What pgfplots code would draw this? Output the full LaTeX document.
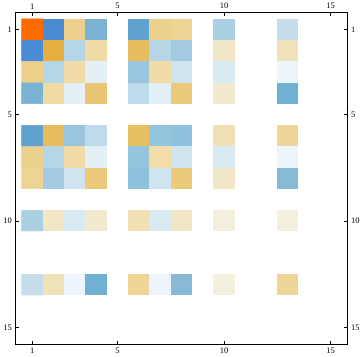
\documentclass[border=0pt]{standalone}
\usepackage{pgfplots}
\pgfplotsset{compat=1.18}
\usepackage{fontspec}
\setmainfont{Liberation Serif}
\begin{document}
\begin{tikzpicture}
\pgfplotsset{
  mmabase/.style={
    scale only axis, width=332.5bp, height=332bp,
    xmin=0.2, xmax=15.8, ymin=0.2, ymax=15.8, y dir=reverse,
    xtick={1,5,10,15}, ytick={1,5,10,15},
    tick align=inside, major tick length=3.5bp,
    tick style={black, line width=0.6pt},
    axis line style={line width=0.75pt},
    tick label style={font=\fontsize{8.5}{10}\selectfont},
    /pgf/number format/assume math mode=true,
  },
}
\begin{axis}[mmabase,
    xticklabel pos=lower, yticklabel pos=left, tick pos=both,
    colormap={mma}{
      rgb255=(255,255,255) rgb255=(255,106,0) rgb255=(74,139,214) rgb255=(235,207,139)
      rgb255=(122,179,211) rgb255=(95,162,207) rgb255=(236,208,142) rgb255=(237,212,146)
      rgb255=(171,208,227) rgb255=(198,222,236) rgb255=(229,174,62) rgb255=(182,214,230)
      rgb255=(240,219,165) rgb255=(231,188,95) rgb255=(163,202,224) rgb255=(241,231,199)
      rgb255=(240,226,184) rgb255=(241,219,167) rgb255=(227,240,246) rgb255=(153,197,222)
      rgb255=(208,228,239) rgb255=(218,234,243) rgb255=(237,244,251) rgb255=(233,198,116)
      rgb255=(191,220,236) rgb255=(235,203,122) rgb255=(242,234,207) rgb255=(111,176,211)
      rgb255=(231,191,96) rgb255=(149,196,221) rgb255=(143,193,220) rgb255=(240,224,179)
      rgb255=(237,214,152) rgb255=(242,221,169) rgb255=(243,239,220) rgb255=(243,240,222)
      rgb255=(136,186,214)
    },
    colormap access=direct,
]
\addplot[matrix plot*, mesh/cols=15, point meta=explicit, draw=none] coordinates {
(1,1)[1] (2,1)[2] (3,1)[3] (4,1)[4] (5,1)[0] (6,1)[5] (7,1)[6] (8,1)[7] (9,1)[0] (10,1)[8] (11,1)[0] (12,1)[0] (13,1)[9] (14,1)[0] (15,1)[0]

(1,2)[2] (2,2)[10] (3,2)[11] (4,2)[12] (5,2)[0] (6,2)[13] (7,2)[11] (8,2)[14] (9,2)[0] (10,2)[15] (11,2)[0] (12,2)[0] (13,2)[16] (14,2)[0] (15,2)[0]

(1,3)[3] (2,3)[11] (3,3)[17] (4,3)[18] (5,3)[0] (6,3)[19] (7,3)[17] (8,3)[20] (9,3)[0] (10,3)[21] (11,3)[0] (12,3)[0] (13,3)[22] (14,3)[0] (15,3)[0]

(1,4)[4] (2,4)[12] (3,4)[18] (4,4)[23] (5,4)[0] (6,4)[24] (7,4)[18] (8,4)[25] (9,4)[0] (10,4)[26] (11,4)[0] (12,4)[0] (13,4)[27] (14,4)[0] (15,4)[0]

(1,5)[0] (2,5)[0] (3,5)[0] (4,5)[0] (5,5)[0] (6,5)[0] (7,5)[0] (8,5)[0] (9,5)[0] (10,5)[0] (11,5)[0] (12,5)[0] (13,5)[0] (14,5)[0] (15,5)[0]

(1,6)[5] (2,6)[13] (3,6)[19] (4,6)[24] (5,6)[0] (6,6)[28] (7,6)[29] (8,6)[30] (9,6)[0] (10,6)[31] (11,6)[0] (12,6)[0] (13,6)[32] (14,6)[0] (15,6)[0]

(1,7)[6] (2,7)[11] (3,7)[17] (4,7)[18] (5,7)[0] (6,7)[29] (7,7)[33] (8,7)[20] (9,7)[0] (10,7)[21] (11,7)[0] (12,7)[0] (13,7)[22] (14,7)[0] (15,7)[0]

(1,8)[7] (2,8)[14] (3,8)[20] (4,8)[25] (5,8)[0] (6,8)[30] (7,8)[20] (8,8)[25] (9,8)[0] (10,8)[15] (11,8)[0] (12,8)[0] (13,8)[36] (14,8)[0] (15,8)[0]

(1,9)[0] (2,9)[0] (3,9)[0] (4,9)[0] (5,9)[0] (6,9)[0] (7,9)[0] (8,9)[0] (9,9)[0] (10,9)[0] (11,9)[0] (12,9)[0] (13,9)[0] (14,9)[0] (15,9)[0]

(1,10)[8] (2,10)[15] (3,10)[21] (4,10)[26] (5,10)[0] (6,10)[31] (7,10)[21] (8,10)[15] (9,10)[0] (10,10)[34] (11,10)[0] (12,10)[0] (13,10)[35] (14,10)[0] (15,10)[0]

(1,11)[0] (2,11)[0] (3,11)[0] (4,11)[0] (5,11)[0] (6,11)[0] (7,11)[0] (8,11)[0] (9,11)[0] (10,11)[0] (11,11)[0] (12,11)[0] (13,11)[0] (14,11)[0] (15,11)[0]

(1,12)[0] (2,12)[0] (3,12)[0] (4,12)[0] (5,12)[0] (6,12)[0] (7,12)[0] (8,12)[0] (9,12)[0] (10,12)[0] (11,12)[0] (12,12)[0] (13,12)[0] (14,12)[0] (15,12)[0]

(1,13)[9] (2,13)[16] (3,13)[22] (4,13)[27] (5,13)[0] (6,13)[32] (7,13)[22] (8,13)[36] (9,13)[0] (10,13)[35] (11,13)[0] (12,13)[0] (13,13)[32] (14,13)[0] (15,13)[0]

(1,14)[0] (2,14)[0] (3,14)[0] (4,14)[0] (5,14)[0] (6,14)[0] (7,14)[0] (8,14)[0] (9,14)[0] (10,14)[0] (11,14)[0] (12,14)[0] (13,14)[0] (14,14)[0] (15,14)[0]

(1,15)[0] (2,15)[0] (3,15)[0] (4,15)[0] (5,15)[0] (6,15)[0] (7,15)[0] (8,15)[0] (9,15)[0] (10,15)[0] (11,15)[0] (12,15)[0] (13,15)[0] (14,15)[0] (15,15)[0]
};
\end{axis}
\begin{axis}[mmabase, xticklabel pos=upper, yticklabel pos=right, tick pos=both]
\end{axis}
\end{tikzpicture}
\end{document}
